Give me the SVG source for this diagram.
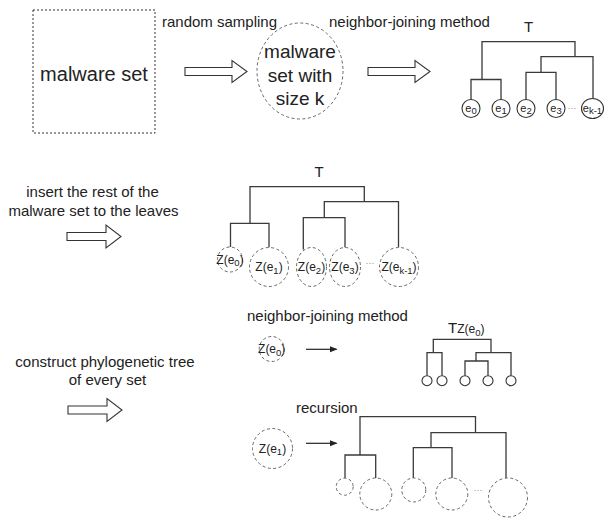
<svg xmlns="http://www.w3.org/2000/svg" width="605" height="519" viewBox="0 0 605 519">
  <style>
    text { font-family: "Liberation Sans", Arial, sans-serif; fill: #222; }
    .lbl { font-size: 15px; }
    .big { font-size: 19px; text-anchor: middle; }
    .leaf { font-size: 11px; text-anchor: middle; }
    .zl { font-size: 12px; text-anchor: middle; }
    .sub { font-size: 9.5px; }
    .dots { font-size: 9px; fill: #888; text-anchor: middle; }
    .tree { fill: none; stroke: #3a3a3a; stroke-width: 1.3; }
    .hollow { fill: #fff; stroke: #333; stroke-width: 1.1; stroke-linejoin: miter; }
    .dash { fill: #fff; stroke: #666; stroke-width: 1; stroke-dasharray: 3 2.5; }
    .leafc { fill: #fff; stroke: #333; stroke-width: 1.1; }
    .thin { stroke: #222; stroke-width: 1.2; }
  </style>
  <defs>
    <marker id="head" viewBox="0 0 8 8" refX="7" refY="4" markerWidth="8" markerHeight="8" markerUnits="userSpaceOnUse" orient="auto">
      <path d="M0,0.8 L8,4 L0,7.2 Z" fill="#222"/>
    </marker>
  </defs>

  <!-- source set -->
  <g id="malware-set">
    <rect x="33" y="10" width="122" height="123" fill="#fff" stroke="#333" stroke-width="1" stroke-dasharray="2 2"/>
    <text class="big" x="94" y="81" style="font-size:20px">malware set</text>
  </g>

  <!-- sampled set -->
  <g id="sample-set">
    <ellipse cx="300" cy="71" rx="43" ry="48" class="dash" stroke-dasharray="2.5 2.5"/>
    <text class="big" x="300" y="58">malware</text>
    <text class="big" x="300" y="82">set with</text>
    <text class="big" x="300" y="105">size k</text>
  </g>

  <!-- step labels -->
  <g id="step-labels">
    <text class="lbl" x="162" y="27">random sampling</text>
    <text class="lbl" x="329" y="27">neighbor-joining method</text>
    <text class="lbl" x="92.5" y="197" text-anchor="middle">insert the rest of the</text>
    <text class="lbl" x="93.5" y="216" text-anchor="middle">malware set to the leaves</text>
    <text class="lbl" x="105" y="367" text-anchor="middle">construct phylogenetic tree</text>
    <text class="lbl" x="107.5" y="385" text-anchor="middle">of every set</text>
    <text class="lbl" x="247" y="321">neighbor-joining method</text>
    <text class="lbl" x="296" y="413">recursion</text>
  </g>

  <!-- connectors -->
  <g id="connectors">
    <polygon class="hollow" points="185,67.5 232,67.5 232,60.5 247,71.5 232,82.5 232,75.5 185,75.5"/>
    <polygon class="hollow" points="368,67.5 415,67.5 415,60.5 430,71.5 415,82.5 415,75.5 368,75.5"/>
    <polygon class="hollow" points="67,232.5 106,232.5 106,225 121,236.5 106,248 106,240.5 67,240.5"/>
    <polygon class="hollow" points="68,406 107,406 107,398.5 122,410 107,421.5 107,414 68,414"/>
    <line class="thin" x1="306" y1="349.3" x2="336.5" y2="349.3" marker-end="url(#head)"/>
    <line class="thin" x1="306" y1="443.3" x2="336.5" y2="443.3" marker-end="url(#head)"/>
  </g>

  <!-- tree T over sampled leaves -->
  <g id="tree-T">
    <text class="lbl" x="528.5" y="32" text-anchor="middle">T</text>
    <path class="tree" d="M482,79.5 V41.7 H575 V56.7 M471,99.5 V79.5 H501 V99.5 M541,72.3 V56.7 H593 V98 M526,99.5 V72.3 H556 V99.5"/>
    <g id="e0"><circle class="leafc" cx="471" cy="108.5" r="9"/><text class="leaf" x="471" y="111.5">e<tspan class="sub" dy="2.5">0</tspan></text></g>
    <g id="e1"><circle class="leafc" cx="501" cy="108.5" r="9"/><text class="leaf" x="501" y="111.5">e<tspan class="sub" dy="2.5">1</tspan></text></g>
    <g id="e2"><circle class="leafc" cx="526" cy="108.5" r="9"/><text class="leaf" x="526" y="111.5">e<tspan class="sub" dy="2.5">2</tspan></text></g>
    <g id="e3"><circle class="leafc" cx="556" cy="108.5" r="9"/><text class="leaf" x="556" y="111.5">e<tspan class="sub" dy="2.5">3</tspan></text></g>
    <g id="ek-1"><ellipse class="leafc" cx="592.5" cy="108.5" rx="11" ry="10"/><text class="leaf" x="592.5" y="111.5">e<tspan class="sub" dy="2.5">k-1</tspan></text></g>
    <text class="dots" x="572" y="111">···</text>
  </g>

  <!-- tree T with inserted sets -->
  <g id="tree-T-sets">
    <text class="lbl" x="319" y="177" text-anchor="middle">T</text>
    <path class="tree" d="M250,223.3 V186.7 H364.3 V201.7 M230.5,247 V223.3 H269 V247.5 M324.3,217.7 V201.7 H398.5 V247.5 M303.3,249.5 V217.7 H345 V247.5"/>
    <g id="Ze0"><circle class="dash" cx="230" cy="259.5" r="12.5"/><text class="zl" x="230" y="263.5">Z(e<tspan class="sub" dy="2.5">0</tspan><tspan dy="-2.5">)</tspan></text></g>
    <g id="Ze1"><circle class="dash" cx="269" cy="267" r="19.5"/><text class="zl" x="269" y="271">Z(e<tspan class="sub" dy="2.5">1</tspan><tspan dy="-2.5">)</tspan></text></g>
    <g id="Ze2"><ellipse class="dash" cx="311.5" cy="267" rx="15" ry="19.5"/><text class="zl" x="311.5" y="271">Z(e<tspan class="sub" dy="2.5">2</tspan><tspan dy="-2.5">)</tspan></text></g>
    <g id="Ze3"><ellipse class="dash" cx="345" cy="267" rx="15.5" ry="19.5"/><text class="zl" x="345" y="271">Z(e<tspan class="sub" dy="2.5">3</tspan><tspan dy="-2.5">)</tspan></text></g>
    <g id="Zek-1"><circle class="dash" cx="399" cy="267" r="19.5"/><text class="zl" x="399" y="271">Z(e<tspan class="sub" dy="2.5">k-1</tspan><tspan dy="-2.5">)</tspan></text></g>
    <text class="dots" x="370" y="266">···</text>
  </g>

  <!-- subtree built from Z(e0) -->
  <g id="set-Ze0">
    <circle class="dash" cx="271.7" cy="349" r="12.5"/>
    <text class="zl" x="271.7" y="353">Z(e<tspan class="sub" dy="2.5">0</tspan><tspan dy="-2.5">)</tspan></text>
  </g>
  <g id="tree-TZe0">
    <text x="448" y="333"><tspan style="font-size:15px">T</tspan><tspan style="font-size:12px">Z(e</tspan><tspan class="sub" dy="2.5">0</tspan><tspan style="font-size:12px" dy="-2.5">)</tspan></text>
    <path class="tree" d="M433.3,352.7 V339.3 H491 V352.7 M427,375.7 V352.7 H442 V375.7 M476,361 V352.7 H511 V375.7 M465,375.7 V361 H488 V375.7"/>
    <circle class="leafc" cx="427" cy="380.7" r="5"/>
    <circle class="leafc" cx="442" cy="380.7" r="5"/>
    <circle class="leafc" cx="465" cy="380.7" r="5"/>
    <circle class="leafc" cx="488" cy="380.7" r="5"/>
    <circle class="leafc" cx="511" cy="380.7" r="5"/>
  </g>

  <!-- recursive subtree built from Z(e1) -->
  <g id="set-Ze1">
    <circle class="dash" cx="272.5" cy="448.5" r="20"/>
    <text class="zl" x="272.5" y="452.5">Z(e<tspan class="sub" dy="2.5">1</tspan><tspan dy="-2.5">)</tspan></text>
  </g>
  <g id="tree-recursion">
    <path class="tree" d="M360,455 V416.7 H475.5 V432.7 M345,478.2 V455 H375.7 V478 M431,447.7 V432.7 H506 V478 M413.3,478 V447.7 H452 V478"/>
    <circle class="dash" cx="344.7" cy="486.7" r="8.5"/>
    <circle class="dash" cx="375.8" cy="494" r="16"/>
    <circle class="dash" cx="413.8" cy="490" r="12"/>
    <circle class="dash" cx="451.8" cy="494" r="16"/>
    <circle class="dash" cx="508" cy="497.5" r="19.5"/>
    <text class="dots" x="478" y="493">···</text>
  </g>
</svg>
